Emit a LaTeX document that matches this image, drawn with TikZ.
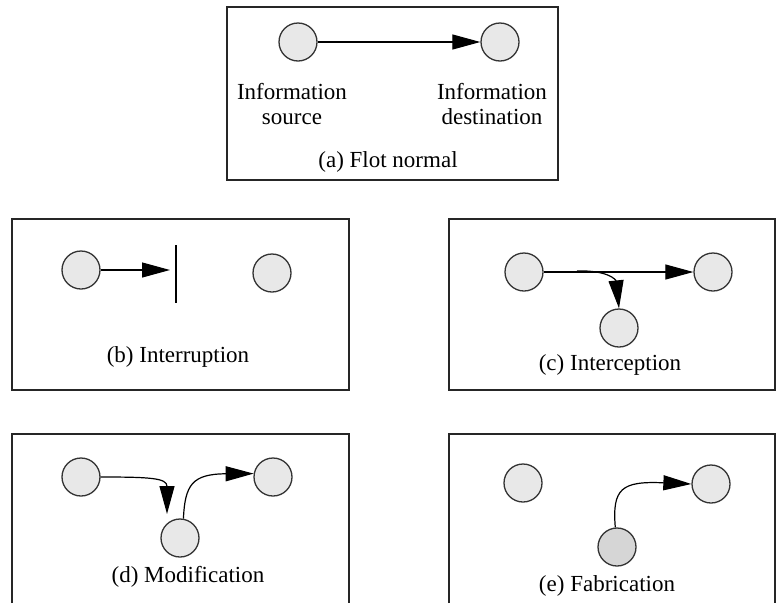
\documentclass[tikz,border=0pt]{standalone}
\usepackage{fontspec}
\setmainfont{Liberation Serif}
\usetikzlibrary{arrows.meta}

\tikzset{
  agent/.style = {circle, draw=black!80, line width=1.3pt, fill=black!9, minimum size=38pt, inner sep=0pt},
  forged/.style = {agent, fill=black!16},
  flow/.style = {line width=1.2pt, -{Triangle[length=28pt,width=15pt]}},
  panel/.style = {line width=1.3pt, draw=black!85},
  caption/.style = {font=\fontsize{23}{28}\selectfont, inner sep=0pt},
  who/.style = {caption, align=center}
}

\begin{document}
\begin{tikzpicture}[x=1pt, y=-1pt]
\useasboundingbox (0,0) rectangle (776,603);

% (a) normal flow
\draw[panel] (227,7) rectangle (558,180);
\node[agent] (a-src) at (298,42) {};
\node[agent] (a-dst) at (500,42) {};
\draw[flow] (a-src) -- (a-dst);
\node[who] (a-srclab) at (292,104) {Information\\[-3pt]source};
\node[who] (a-dstlab) at (492,104) {Information\\[-3pt]destination};
\node[caption] (a-cap) at (388,162) {(a) Flot normal};

% (b) interruption
\draw[panel] (12,219) rectangle (349,390);
\node[agent] (b-src) at (81,270) {};
\node[agent] (b-dst) at (272,273) {};
\coordinate (b-cut) at (176,270);
\draw[line width=1.2pt] (b-cut) ++(0,-25) -- ++(0,58);
\draw[flow, shorten >=6pt] (b-src) -- (b-cut);
\node[caption] (b-cap) at (178,357) {(b) Interruption};

% (c) interception
\draw[panel] (449,219) rectangle (775,390);
\node[agent] (c-src) at (524,272) {};
\node[agent] (c-dst) at (713,272) {};
\node[agent] (c-tap) at (619,328) {};
\coordinate (c-split) at (577,271);
\draw[flow] (c-src) -- (c-dst);
\draw[flow] (c-split) .. controls (608,270) and (616,280) .. (c-tap.north);
\node[caption] (c-cap) at (610,365) {(c) Interception};

% (d) modification
\draw[panel] (12,603) -- (12,434) -- (349,434) -- (349,603);
\node[agent] (d-src) at (81,477) {};
\node[agent] (d-dst) at (273,477) {};
\node[agent] (d-mod) at (180,538) {};
\coordinate (d-in) at (167,514);
\draw[flow] (d-src.east) .. controls (150,477) and (167,478) .. (d-in);
\draw[flow] (d-mod.80) .. controls (185,485) and (192,474) .. (d-dst.170);
\node[caption] (d-cap) at (188,577) {(d) Modification};

% (e) fabrication
\draw[panel] (449,603) -- (449,434) -- (775,434) -- (775,603);
\node[agent] (e-src) at (523,483) {};
\node[agent] (e-dst) at (711,484) {};
\node[forged] (e-fab) at (617,547) {};
\draw[flow] (e-fab.95) .. controls (612,488) and (622,481) .. (e-dst.west);
\node[caption] (e-cap) at (607,586) {(e) Fabrication};
\end{tikzpicture}
\end{document}
